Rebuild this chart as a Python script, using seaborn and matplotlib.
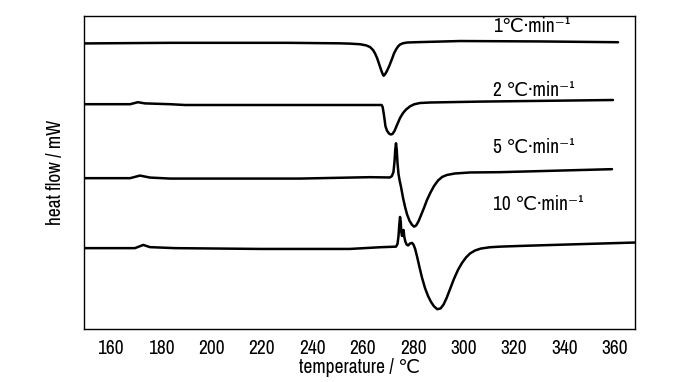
import matplotlib
matplotlib.use("Agg")
import matplotlib.pyplot as plt
import seaborn as sns
import pandas as pd

# DSC curves at four heating rates (heat flow in arbitrary mW, offset per curve)
rate_labels = ["1℃·min⁻¹", "2 ℃·min⁻¹", "5 ℃·min⁻¹", "10 ℃·min⁻¹"]

t_1 = [149.5, 183.5, 230.4, 251.0, 255.0, 258.9, 261.3, 262.9, 264.1, 264.9, 265.7, 266.5,
       267.3, 267.9, 268.3, 268.8, 269.6, 270.6, 271.6, 272.4, 273.2, 274.0, 274.8, 276.0,
       277.6, 280.8, 298.6, 330.0, 361.3]
hf_1 = [14.33, 14.36, 14.36, 14.335, 14.32, 14.29, 14.235, 14.15, 14.0, 13.825, 13.6, 13.3,
        13.0, 12.8, 12.715, 12.775, 12.95, 13.225, 13.55, 13.825, 14.025, 14.175, 14.275, 14.34,
        14.375, 14.39, 14.45, 14.43, 14.39]

t_2 = [149.4, 167.7, 170.8, 173.6, 183.5, 189.5, 230.0, 258.9, 267.5, 267.9, 268.3, 268.7,
       269.0, 269.6, 270.4, 271.1, 271.8, 272.6, 273.6, 274.8, 276.0, 277.2, 278.8, 280.4,
       282.7, 286.7, 306.5, 359.3]
hf_2 = [11.29, 11.29, 11.39, 11.33, 11.29, 11.25, 11.25, 11.25, 11.25, 11.15, 10.85, 10.5,
        10.2, 9.975, 9.825, 9.775, 9.8, 9.95, 10.25, 10.6, 10.85, 11.025, 11.185, 11.285,
        11.35, 11.375, 11.42, 11.5]

t_5 = [149.4, 167.7, 171.6, 175.6, 183.5, 235.1, 262.9, 270.8, 271.6, 272.2, 272.6, 272.9,
       273.2, 273.5, 273.8, 274.2, 274.6, 275.2, 276.0, 276.8, 277.6, 278.6, 279.6, 280.4,
       281.2, 282.1, 283.1, 284.3, 285.5, 286.9, 288.3, 289.9, 291.5, 293.4, 296.6, 302.6,
       314.5, 358.9]
hf_5 = [7.59, 7.59, 7.72, 7.62, 7.57, 7.57, 7.64, 7.625, 7.7, 7.9, 8.4, 9.0,
        9.335, 9.0, 8.35, 7.8, 7.5, 7.15, 6.6, 6.15, 5.775, 5.45, 5.25, 5.165,
        5.225, 5.425, 5.725, 6.1, 6.5, 6.875, 7.2, 7.475, 7.65, 7.75, 7.825, 7.875,
        7.89, 8.04]

t_10 = [149.4, 169.6, 172.9, 175.6, 185.5, 219.2, 254.9, 266.9, 273.2, 273.8, 274.2, 274.5,
        274.8, 275.1, 275.3, 275.6, 275.9, 276.2, 276.5, 276.9, 277.4, 278.0, 278.8, 279.6,
        280.2, 280.8, 281.6, 282.5, 283.5, 284.7, 285.9, 287.1, 288.3, 289.6, 290.9, 292.1,
        293.3, 294.6, 296.2, 297.8, 299.4, 301.0, 302.6, 304.6, 306.9, 310.5, 314.5, 322.4,
        343.5, 368.0]
hf_10 = [4.09, 4.09, 4.25, 4.14, 4.09, 4.05, 4.05, 4.135, 4.165, 4.3, 4.7, 5.25,
         5.65, 5.4, 4.9, 4.7, 4.95, 5.0, 4.65, 4.425, 4.275, 4.225, 4.325, 4.35,
         4.25, 4.05, 3.65, 3.15, 2.625, 2.1, 1.7, 1.4, 1.175, 1.035, 1.075, 1.275,
         1.6, 2.025, 2.55, 3.0, 3.35, 3.625, 3.825, 3.975, 4.07, 4.135, 4.165, 4.2,
         4.28, 4.37]

x_ticks = [160, 180, 200, 220, 240, 260, 280, 300, 320, 340, 360]

rows = []
for lab, ts, hs in zip(rate_labels, [t_1, t_2, t_5, t_10], [hf_1, hf_2, hf_5, hf_10]):
    for t, h in zip(ts, hs):
        rows.append([t, h, lab])
df = pd.DataFrame(rows, columns=["temperature", "heat_flow", "rate"])

sns.set_style("white")
plt.rcParams["font.family"] = ["Archivo Narrow", "Liberation Sans", "DejaVu Sans"]
plt.rcParams["text.color"] = "black"
plt.rcParams["axes.labelcolor"] = "black"
plt.rcParams["xtick.color"] = "black"

fig = plt.figure(figsize=(7, 3.82), dpi=100)
ax = fig.add_axes([0.12, 0.139, 0.787, 0.819])

sns.lineplot(data=df, x="temperature", y="heat_flow", hue="rate", units="rate",
             palette=["black"] * 4, estimator=None, sort=False, legend=False,
             linewidth=1.8, ax=ax)

ax.set_xlim(149.4, 368)
ax.set_ylim(0.05, 15.7)
ax.set_xticks(x_ticks)
ax.set_yticks([])
ax.tick_params(axis="x", length=0, labelsize=14, pad=7)
for s in ax.spines.values():
    s.set_color("black")
    s.set_linewidth(1.0)

ax.set_xlabel("temperature / ℃", fontsize=14, labelpad=0)
ax.set_ylabel("heat flow / mW", fontsize=14, labelpad=14)

label_y = [15.2, 12.0, 9.1, 6.25]
for lab, yy in zip(rate_labels, label_y):
    ax.text(311.7, yy, lab, fontsize=14, ha="left", va="center")

fig.savefig("out.png", dpi=100)
